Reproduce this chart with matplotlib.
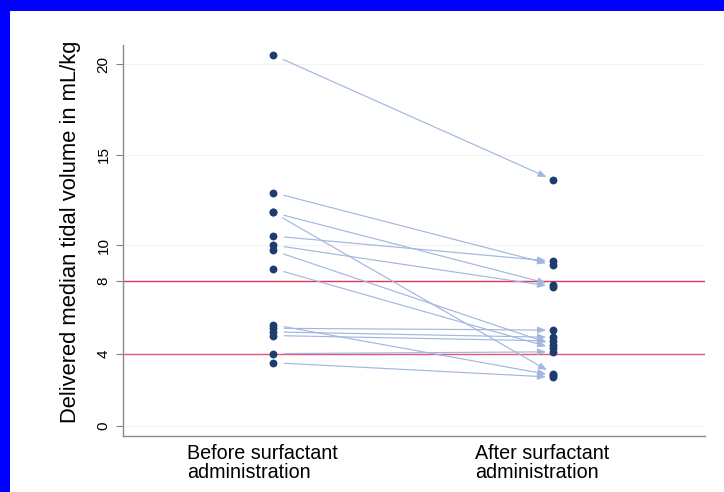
import matplotlib
matplotlib.use("Agg")
import matplotlib.pyplot as plt
import matplotlib.transforms as mtransforms
from matplotlib.patches import Rectangle

plt.rcParams['font.family'] = ['Liberation Sans', 'DejaVu Sans']

# Delivered median tidal volume (mL/kg) per infant
before = [20.5, 12.9, 11.8, 11.8, 10.5, 10.0, 9.7, 8.7, 5.6, 5.4, 5.2, 5.0, 4.0, 3.5]
after = [13.6, 8.9, 7.8, 2.9, 9.1, 7.7, 4.5, 4.3, 2.8, 5.3, 4.9, 4.7, 4.1, 2.7]
group_labels = ["Before surfactant\nadministration", "After surfactant\nadministration"]
y_ticks = [0, 4, 8, 10, 15, 20]
limits = [4, 8]

W, H = 724, 492
fig = plt.figure(figsize=(W / 100, H / 100), dpi=100)
fig.patch.set_facecolor('#0000ff')
fig.patches.append(Rectangle((10 / W, 0), 1, 1 - 11 / H, transform=fig.transFigure,
                             facecolor='white', edgecolor='none', zorder=-10))

ax = fig.add_axes([123 / W, 1 - 436 / H, (705 - 123) / W, (436 - 45) / H])
ax.set_facecolor('white')
ax.set_xlim(0.464, 2.543)
ax.set_ylim(-0.55, 21.05)

for y in y_ticks:
    ax.axhline(y, color='#f3f3f3', lw=0.8, zorder=0)
ax.axhline(limits[1], color='#e0365f', lw=1.0, zorder=1)
ax.axhline(limits[0], color='#e8557a', lw=1.0, zorder=1)

for b, a in zip(before, after):
    ax.annotate("", xy=(2, a), xytext=(1, b),
                arrowprops=dict(arrowstyle='-|>,head_length=0.5,head_width=0.2',
                                color='#a3b7de', lw=0.85, shrinkA=8, shrinkB=5),
                zorder=2)

ax.scatter([1] * len(before), before, s=32, color='#1d3d6e', zorder=3, linewidths=0)
ax.scatter([2] * len(after), after, s=32, color='#1d3d6e', zorder=3, linewidths=0)

ax.set_yticks(y_ticks)
ax.set_yticklabels([str(t) for t in y_ticks], rotation=90, va='center', fontsize=11)
ax.set_xticks([1, 2])
ax.set_xticklabels([])
ax.tick_params(axis='x', length=0)
ax.tick_params(axis='y', length=5, color='#808080', pad=4)
ax.set_ylabel("Delivered median tidal volume in mL/kg", fontsize=15.8)
ax.yaxis.set_label_coords(-0.072, 0.522)

# Group captions: left-aligned two-line blocks under each group
cap_trans = (mtransforms.blended_transform_factory(ax.transData, ax.transAxes)
             + mtransforms.ScaledTranslation(-11 / 100, -8 / 100, fig.dpi_scale_trans))
for xpos, label in zip([1, 2], group_labels):
    ax.text(xpos, 0, label, transform=cap_trans, ha='center', va='top',
            multialignment='left', fontsize=14.2, linespacing=1.0, clip_on=False)

for side in ['top', 'right']:
    ax.spines[side].set_visible(False)
for side in ['left', 'bottom']:
    ax.spines[side].set_color('#8a8a8a')
    ax.spines[side].set_linewidth(1.0)

fig.savefig("out.png", dpi=100, facecolor=fig.get_facecolor())
